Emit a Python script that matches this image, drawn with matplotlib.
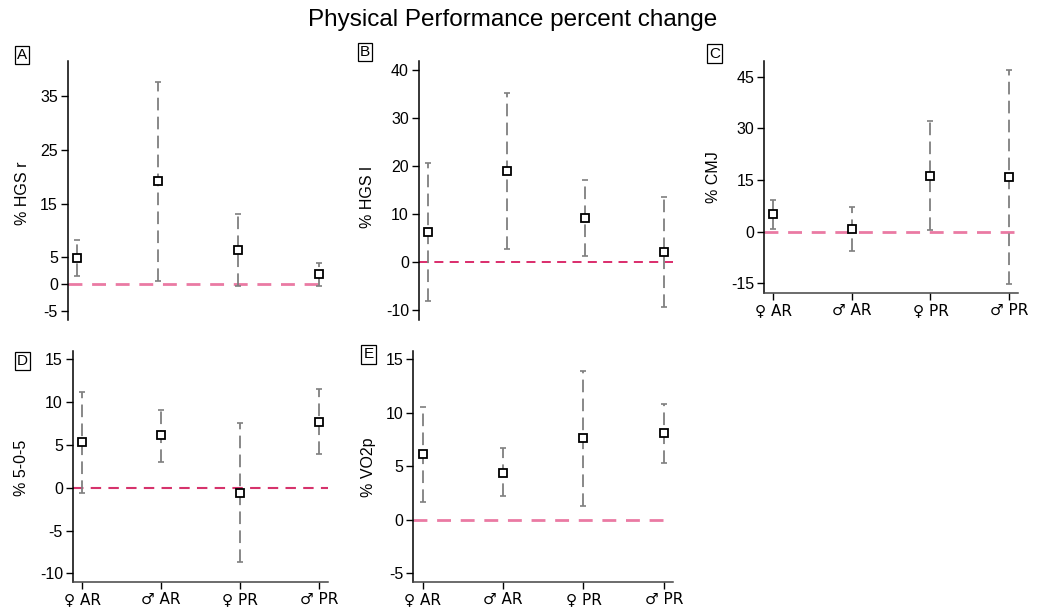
import matplotlib
matplotlib.use("Agg")
import matplotlib.pyplot as plt

plt.rcParams['font.family'] = ['Liberation Sans', 'DejaVu Sans']
plt.rcParams['axes.unicode_minus'] = False

W, H = 1043, 609

# grupos
groups = ["♀ AR", "♂ AR", "♀ PR", "♂ PR"]
xpos = [1, 2, 3, 4]

# % cambio (media, limite inferior, limite superior)
hgs_r = [4.9, 19.2, 6.3, 1.8]
hgs_r_lo = [1.5, 0.6, -0.4, -0.4]
hgs_r_hi = [8.3, 37.7, 13.1, 4.0]

hgs_l = [6.4, 19.0, 9.3, 2.2]
hgs_l_lo = [-8.0, 2.8, 1.4, -9.2]
hgs_l_hi = [20.7, 35.3, 17.1, 13.6]

cmj = [5.1, 0.9, 16.3, 15.9]
cmj_lo = [0.7, -5.5, 0.5, -15.2]
cmj_hi = [9.3, 7.2, 32.1, 47.1]

t505 = [5.3, 6.1, -0.6, 7.7]
t505_lo = [-0.6, 3.0, -8.7, 3.9]
t505_hi = [11.2, 9.1, 7.6, 11.5]

vo2 = [6.1, 4.4, 7.6, 8.1]
vo2_lo = [1.65, 2.2, 1.25, 5.3]
vo2_hi = [10.5, 6.7, 13.9, 10.8]

# paneles: letra, etiqueta, datos, ticks, limites, caja en pixeles, eje x
panels = [
    ("A", "% HGS r", hgs_r, hgs_r_lo, hgs_r_hi, [-5, 0, 5, 15, 25, 35], (-6.7, 41.6),
     (67.7, 61, 328, 320), False, (22.7, 193), (22, 55), "#ea7aa3", 2.0),
    ("B", "% HGS l", hgs_l, hgs_l_lo, hgs_l_hi, [-10, 0, 10, 20, 30, 40], (-12.0, 41.85),
     (418.7, 61, 673.3, 320), False, (368, 197), (365, 52), "#d81b60", 1.3),
    ("C", "% CMJ", cmj, cmj_lo, cmj_hi, [-15, 0, 15, 30, 45], (-17.9, 49.6),
     (764, 61, 1018.3, 293.3), True, (713, 177), (714.5, 53.5), "#ea7aa3", 2.0),
    ("D", "% 5-0-5", t505, t505_lo, t505_hi, [-10, -5, 0, 5, 10, 15], (-11.05, 16.0),
     (72.7, 350.7, 328, 582.3), True, (22, 468), (22.5, 361), "#d6336c", 1.5),
    ("E", "% VO2p", vo2, vo2_lo, vo2_hi, [-5, 0, 5, 10, 15], (-5.87, 15.8),
     (413.3, 350.7, 673.3, 582.3), True, (368, 467), (368.5, 354.5), "#ea7aa3", 2.0),
]

fig = plt.figure(figsize=(W / 100, H / 100), dpi=100)

for letter, ylab, vals, lo, hi, ticks, ylim, box, xaxis, labpos, letpos, zcol, zlw in panels:
    l, t, r, b = box
    ax = fig.add_axes([l / W, 1 - b / H, (r - l) / W, (b - t) / H])
    ax.set_xlim(0.882, 4.118)
    ax.set_ylim(*ylim)

    ax.axhline(0, color=zcol, lw=zlw, ls=(0, (5, 3.5)), zorder=1)

    err = [[v - a for v, a in zip(vals, lo)], [c - v for v, c in zip(vals, hi)]]
    eb = ax.errorbar(xpos, vals, yerr=err, fmt="none", ecolor="#7f7f7f", elinewidth=1.3,
                     capsize=2.2, capthick=1.2, zorder=2)
    eb[2][0].set_linestyle((0, (7, 3.5)))
    ax.plot(xpos, vals, ls="none", marker="s", ms=6, mfc="white", mec="black", mew=1.3, zorder=3)

    for s in ["top", "right"]:
        ax.spines[s].set_visible(False)
    ax.spines["left"].set_linewidth(1.1)
    ax.set_yticks(ticks)
    ax.tick_params(axis="y", length=5, width=1, labelsize=11.5, pad=2)
    if xaxis:
        ax.spines["bottom"].set_linewidth(1.1)
        ax.spines["bottom"].set_color("#444444")
        ax.set_xticks(xpos)
        ax.set_xticklabels(groups)
        ax.tick_params(axis="x", length=5, width=1, labelsize=11.5, pad=2)
        for lab in ax.get_xticklabels():
            lab.set_family(['DejaVu Sans'])
            lab.set_fontsize(11)
    else:
        ax.spines["bottom"].set_visible(False)
        ax.set_xticks([])

    fig.text(labpos[0] / W, 1 - labpos[1] / H, ylab, rotation=90, ha="center", va="center",
             fontsize=11.5)
    fig.text(letpos[0] / W, 1 - letpos[1] / H, letter, ha="center", va="center", fontsize=11,
             bbox=dict(boxstyle="square,pad=0.15", fc="white", ec="black", lw=0.9))

fig.text(513 / W, 1 - 20 / H, "Physical Performance percent change", ha="center", va="center",
         fontsize=17.5)

fig.savefig("out.png", dpi=100)
